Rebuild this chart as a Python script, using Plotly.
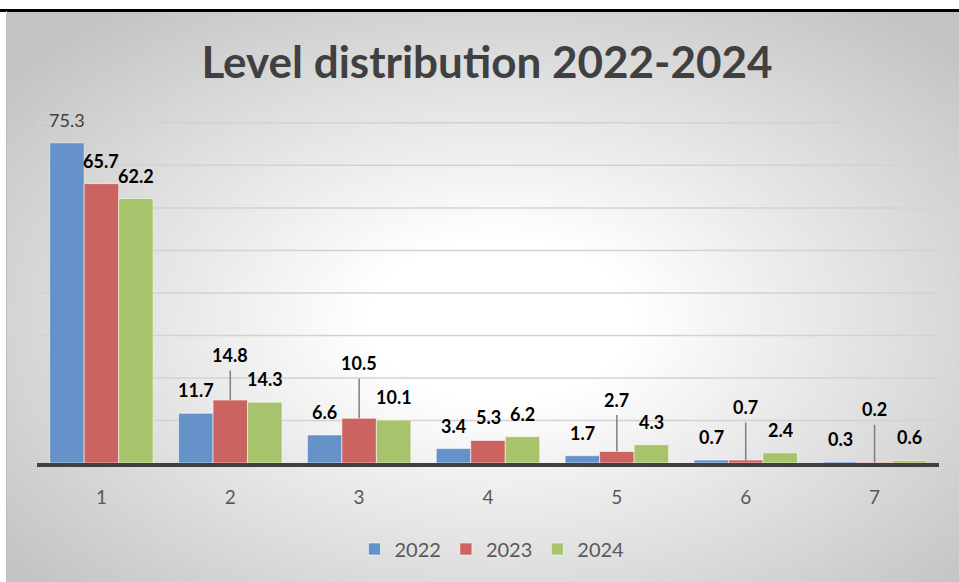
import base64
import struct
import zlib

import numpy as np
import plotly.graph_objects as go

# ---- data -----------------------------------------------------------------
levels = [1, 2, 3, 4, 5, 6, 7]
years = ["2022", "2023", "2024"]
share_2022 = [75.3, 11.7, 6.6, 3.4, 1.7, 0.7, 0.3]
share_2023 = [65.7, 14.8, 10.5, 5.3, 2.7, 0.7, 0.2]
share_2024 = [62.2, 14.3, 10.1, 6.2, 4.3, 2.4, 0.6]
series = [share_2022, share_2023, share_2024]
grid_values = [10, 20, 30, 40, 50, 60, 70, 80]

# ---- style ----------------------------------------------------------------
colors = ["#6592C8", "#CB6361", "#A7C46C"]
FONT = "Lato"
GRID = "#D2D2D2"
W, H = 959, 582
L, R, T, B = 37, 20, 122, 119
PW, PH = W - L - R, H - T - B
BARGAP = 0.197
Y_TOP = 80.2  # a little headroom above the top gridline

# 2023 labels lifted above their bars with a leader line (pixel lift per level)
leader_lift = {2: 45, 3: 55, 5: 52, 6: 53, 7: 53}
LABEL_LIFT = 23


def paper_x(px):
    return (px - L) / PW


def paper_y(py):
    return (H - B - py) / PH


def png_gray(arr):
    h, w = arr.shape
    raw = b"".join(b"\x00" + arr[i].tobytes() for i in range(h))

    def chunk(tag, data):
        c = struct.pack(">I", len(data)) + tag + data
        return c + struct.pack(">I", zlib.crc32(tag + data) & 0xFFFFFFFF)

    return (b"\x89PNG\r\n\x1a\n"
            + chunk(b"IHDR", struct.pack(">IIBBBBB", w, h, 8, 0, 0, 0, 0))
            + chunk(b"IDAT", zlib.compress(raw, 9))
            + chunk(b"IEND", b""))


# radial white-to-grey backdrop of the chart area
X0, Y0, X1, Y1 = 6, 11, 959, 582
gw, gh = 320, 190
xs = np.linspace(X0, X1, gw)
ys = np.linspace(Y0, Y1, gh)
gx, gy = np.meshgrid(xs, ys)
d = np.sqrt(((gx - 500) / 530) ** 2 + ((gy - 320) / 330) ** 2)
t = np.clip((d - 0.25) / 0.95, 0, 1)
shade = (255 - 60 * t).round().astype(np.uint8)
bg_src = "data:image/png;base64," + base64.b64encode(png_gray(shade)).decode()

fig = go.Figure()
for name, vals, col in zip(years, series, colors):
    fig.add_trace(go.Bar(
        x=levels, y=vals, name=name,
        marker=dict(color=col, line=dict(color="rgba(255,255,255,0.55)", width=1)),
    ))

# data labels
step = (1 - BARGAP) / len(series)
annotations = []
for si, vals in enumerate(series):
    off = (si - 1) * step
    for lv, v in zip(levels, vals):
        bold = not (si == 0 and lv == 1)
        font = dict(family=FONT, size=18, color="#000000" if bold else "#404040",
                    weight="bold" if bold else "normal")
        if si == 1 and lv in leader_lift:
            annotations.append(dict(
                x=lv + off, y=v, xref="x", yref="y", text=f"{v:g}", font=font,
                showarrow=True, arrowhead=0, arrowwidth=1.5, arrowcolor="#7F7F7F",
                ax=0, ay=-leader_lift[lv], startstandoff=3, standoff=0,
            ))
        else:
            annotations.append(dict(
                x=lv + off, y=v, xref="x", yref="y", text=f"{v:g}", font=font,
                showarrow=False, yshift=LABEL_LIFT, xanchor="center", yanchor="middle",
            ))

# horizontal gridlines drawn beneath the bars
grid_shapes = [
    dict(type="line", xref="paper", yref="y", x0=0, x1=1, y0=g, y1=g,
         line=dict(color=GRID, width=1.5), layer="below")
    for g in grid_values
]

fig.update_layout(
    width=W, height=H,
    margin=dict(l=L, r=R, t=T, b=B),
    paper_bgcolor="#FFFFFF",
    plot_bgcolor="rgba(0,0,0,0)",
    barmode="group", bargap=BARGAP, bargroupgap=0,
    title=dict(text="Level distribution 2022-2024",
               font=dict(family=FONT, size=44, color="#404040", weight="bold"),
               x=487 / W, xref="container", xanchor="center",
               y=1 - 63 / H, yref="container", yanchor="middle"),
    xaxis=dict(range=[0.5, 7.5], tickvals=levels, ticktext=[str(v) for v in levels],
               showgrid=False, zeroline=False, showline=True, linewidth=4,
               linecolor="#404040", ticks="outside", ticklen=14,
               tickcolor="rgba(0,0,0,0)",
               tickfont=dict(family=FONT, size=19, color="#595959")),
    yaxis=dict(range=[0, Y_TOP], showgrid=False, zeroline=False,
               showticklabels=False, ticks=""),
    legend=dict(orientation="h", xref="container", x=492 / W, xanchor="center",
                yref="container", y=1 - 549 / H, yanchor="middle",
                font=dict(family=FONT, size=20, color="#595959"),
                bgcolor="rgba(0,0,0,0)", traceorder="normal"),
    annotations=annotations,
    images=[dict(source=bg_src, xref="paper", yref="paper",
                 x=paper_x(X0), y=paper_y(Y0),
                 sizex=(X1 - X0) / PW, sizey=(Y1 - Y0) / PH,
                 xanchor="left", yanchor="top", sizing="stretch", layer="below")],
    shapes=grid_shapes + [
        dict(type="line", xref="paper", yref="paper",
             x0=paper_x(0), x1=paper_x(W), y0=paper_y(10.5), y1=paper_y(10.5),
             line=dict(color="#000000", width=3)),
        dict(type="line", xref="paper", yref="paper",
             x0=paper_x(6.5), x1=paper_x(6.5), y0=paper_y(Y0), y1=paper_y(Y1),
             line=dict(color="#BDBDBD", width=1)),
    ],
)

fig.write_html("out.html")
